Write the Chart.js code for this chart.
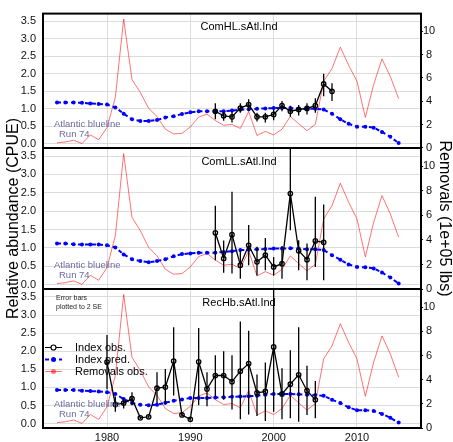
<!DOCTYPE html>
<html>
<head>
<meta charset="utf-8">
<script src="https://cdn.jsdelivr.net/npm/chart.js@4.4.0/dist/chart.umd.min.js"></script>
<style>
  body { margin: 0; background: #fff; }
  #wrap { position: relative; width: 453px; height: 442px; }
  #wrap canvas { position: absolute; left: 0; top: 0; }
</style>
</head>
<body>
<div id="wrap">
  <canvas id="c1" width="453" height="442"></canvas>
  <canvas id="c2" width="453" height="442"></canvas>
  <canvas id="c3" width="453" height="442"></canvas>
</div>
<script>
// years for removals and predicted index
const years = [1974, 1975, 1976, 1977, 1978, 1979, 1980, 1981, 1982, 1983, 1984, 1985, 1986, 1987,
  1988, 1989, 1990, 1991, 1992, 1993, 1994, 1995, 1996, 1997, 1998, 1999, 2000, 2001,
  2002, 2003, 2004, 2005, 2006, 2007, 2008, 2009, 2010, 2011, 2012, 2013, 2014, 2015];

// removals (1e+05 lbs), same in every panel
const removals = [0.44, 0.52, 0.66, 0.38, 1.12, 0.71, 1.75, 4.34, 11.04, 5.85, 4.75, 3.39, 2.70, 1.61,
  1.20, 1.26, 1.80, 2.65, 2.90, 2.35, 1.94, 2.02, 1.67, 3.11, 1.07, 1.42, 1.12, 1.61,
  2.70, 2.08, 1.48, 2.02, 5.71, 6.80, 8.63, 7.07, 5.71, 2.62, 5.44, 7.62, 6.12, 4.21];

// predicted index per panel
const predHL = [1.18, 1.18, 1.18, 1.17, 1.15, 1.14, 1.12, 1.04, 0.86, 0.70, 0.65, 0.65, 0.68, 0.75,
  0.79, 0.85, 0.90, 0.93, 0.93, 0.93, 0.93, 0.95, 0.97, 0.99, 1.00, 1.01, 1.02, 1.02,
  1.02, 1.01, 1.00, 1.00, 0.98, 0.86, 0.70, 0.57, 0.49, 0.49, 0.46, 0.34, 0.20, 0.02];
const predLL = [1.12, 1.12, 1.10, 1.09, 1.09, 1.09, 1.07, 1.01, 0.82, 0.69, 0.64, 0.61, 0.64, 0.69,
  0.77, 0.83, 0.85, 0.87, 0.87, 0.87, 0.89, 0.91, 0.94, 0.95, 0.96, 0.97, 0.98, 0.98,
  0.99, 0.98, 0.96, 0.96, 0.94, 0.80, 0.68, 0.55, 0.48, 0.47, 0.44, 0.33, 0.19, 0.03];
const predRec = [0.93, 0.93, 0.93, 0.91, 0.90, 0.89, 0.87, 0.82, 0.68, 0.57, 0.52, 0.51, 0.52, 0.58,
  0.63, 0.67, 0.71, 0.71, 0.71, 0.72, 0.73, 0.74, 0.75, 0.76, 0.77, 0.80, 0.82, 0.82,
  0.82, 0.81, 0.80, 0.79, 0.77, 0.66, 0.57, 0.45, 0.37, 0.37, 0.35, 0.27, 0.16, 0.03];

// observed index with 2 SE bounds
const obsYearsHL = [1993, 1994, 1995, 1996, 1997, 1998, 1999, 2000, 2001, 2002, 2003, 2004, 2005, 2006, 2007];
const obsHL = [0.93, 0.80, 0.77, 1.02, 1.12, 0.77, 0.77, 0.84, 1.09, 0.93, 0.98, 1.01, 1.09, 1.71, 1.50];
const loHL  = [0.70, 0.66, 0.61, 0.89, 0.93, 0.64, 0.61, 0.67, 0.93, 0.77, 0.81, 0.84, 0.89, 1.36, 1.22];
const hiHL  = [1.16, 0.93, 0.93, 1.16, 1.27, 0.89, 0.89, 0.98, 1.22, 1.09, 1.11, 1.16, 1.30, 2.00, 1.73];

const obsYearsLL = [1993, 1994, 1995, 1996, 1997, 1998, 1999, 2000, 2001, 2002, 2003, 2004, 2005, 2006];
const obsLL = [1.41, 0.71, 1.36, 0.53, 1.07, 0.62, 0.80, 0.48, 0.57, 2.48, 0.92, 0.68, 1.19, 1.15];
const loLL  = [0.66, 0.32, 0.30, 0.16, 0.53, 0.25, 0.39, 0.25, 0.16, 1.48, 0.39, 0.12, 0.48, 0.12];
const hiLL  = [2.15, 1.20, 2.53, 0.94, 1.62, 1.03, 1.27, 0.75, 1.05, 3.70, 1.21, 1.12, 2.39, 2.18];

const obsYearsRec = [1980, 1981, 1982, 1983, 1984, 1985, 1986, 1987, 1988, 1989, 1990, 1991, 1992,
  1993, 1994, 1995, 1996, 1997, 1998, 1999, 2000, 2001, 2002, 2003, 2004, 2005];
const obsRec = [1.70, 0.53, 0.57, 0.69, 0.16, 0.19, 0.98, 1.01, 1.73, 0.24, 0.12, 1.71, 0.96,
  1.33, 1.33, 1.16, 1.45, 1.66, 0.85, 0.89, 2.12, 0.82, 1.09, 1.35, 0.91, 0.66];
const loRec  = [0.95, 0.33, 0.42, 0.51, 0.13, 0.16, 0.57, 0.53, 0.78, 0.20, 0.09, 0.51, 0.48,
  0.75, 0.66, 0.39, 0.12, 0.25, 0.21, 0.07, 0.33, 0.12, 0.15, 0.05, 0.24, 0.15];
const hiRec  = [2.45, 0.75, 0.71, 0.87, 0.19, 0.22, 1.42, 1.51, 2.66, 0.28, 0.15, 2.64, 1.42,
  1.89, 2.00, 1.89, 2.82, 2.57, 1.36, 1.69, 3.70, 1.53, 2.03, 2.66, 1.60, 1.18];

const xTicks = [1980, 1990, 2000, 2010];
const leftTicks = [0, 0.5, 1, 1.5, 2, 2.5, 3, 3.5];
const rightTicks = [0, 2, 4, 6, 8, 10];
const panelTitles = ['ComHL.sAtl.Ind', 'ComLL.sAtl.Ind', 'RecHb.sAtl.Ind'];
const legendLabels = ['Index obs.', 'Index pred.', 'Removals obs.'];

const FONT = '"Liberation Sans", Arial, Helvetica, sans-serif';
Chart.defaults.font.family = FONT;
Chart.defaults.color = '#111';

const RED = 'rgba(255,0,0,0.55)';
const BLUE = '#0000ff';
const GRID = '#dcdcdc';

// text inside the panels, legend and the frame
const panelText = {
  id: 'panelText',
  afterDatasetsDraw(chart, args, opts) {
    const { ctx, chartArea: a } = chart;
    ctx.save();
    ctx.textBaseline = 'middle';
    ctx.fillStyle = '#000';
    ctx.textAlign = 'center';
    ctx.font = '11px ' + FONT;
    ctx.fillText(opts.title, 239, a.top + 13.5);

    ctx.textAlign = 'left';
    ctx.font = '9.5px ' + FONT;
    ctx.fillStyle = 'rgba(90,90,150,0.9)';
    ctx.fillText('Atlantic blueline', 54, a.bottom - 24);
    ctx.fillText('Run 74', 59, a.bottom - 13.5);

    if (opts.legend) {
      ctx.fillStyle = '#222';
      ctx.font = '7px ' + FONT;
      ctx.fillText('Error bars', 56, a.top + 9.5);
      ctx.fillText('plotted to 2 SE', 56, a.top + 18.5);

      const sty = [
        { c: '#000', w: 1, dash: [], fill: null },
        { c: BLUE, w: 2, dash: [4, 3], fill: BLUE },
        { c: RED, w: 1, dash: [], fill: RED }
      ];
      legendLabels.forEach((lab, i) => {
        const y = a.top + 58.5 + i * 12;
        const s = sty[i];
        ctx.strokeStyle = s.c;
        ctx.lineWidth = s.w;
        ctx.setLineDash(s.dash);
        ctx.beginPath(); ctx.moveTo(45, y); ctx.lineTo(62, y); ctx.stroke();
        ctx.setLineDash([]);
        ctx.beginPath(); ctx.arc(53.5, y, 2.5, 0, Math.PI * 2);
        if (s.fill) { ctx.fillStyle = s.fill; ctx.fill(); }
        else { ctx.fillStyle = '#fff'; ctx.fill(); ctx.lineWidth = 1.2; ctx.stroke(); }
        ctx.fillStyle = '#000';
        ctx.font = '11px ' + FONT;
        ctx.fillText(lab, 75, y);
      });
    }

    ctx.strokeStyle = '#000';
    ctx.lineWidth = 2;
    ctx.strokeRect(a.left, a.top, a.width, a.height);
    ctx.restore();
  }
};

const panels = [
  { top: 8, bottom: 148 },
  { top: 148, bottom: 289 },
  { top: 289, bottom: 428 }
];

function makePanel(id, idx, pred, oYears, obs, lo, hi) {
  const last = idx === 2;
  const mid = idx === 1;
  const errData = [];
  oYears.forEach((yr, i) => {
    errData.push({ x: yr, y: lo[i] }, { x: yr, y: hi[i] }, { x: yr, y: null });
  });

  new Chart(document.getElementById(id), {
    type: 'line',
    data: {
      datasets: [
        {
          label: 'Index obs.',
          data: oYears.map((yr, i) => ({ x: yr, y: obs[i] })),
          yAxisID: 'yL',
          borderColor: '#000',
          borderWidth: 1.3,
          pointRadius: 2.2,
          pointBorderWidth: 1.3,
          pointBorderColor: '#000',
          pointBackgroundColor: 'rgba(0,0,0,0)'
        },
        {
          label: 'err',
          data: errData,
          yAxisID: 'yL',
          borderColor: '#000',
          borderWidth: 1.3,
          pointRadius: 0,
          spanGaps: false
        },
        {
          label: 'Index pred.',
          data: years.map((yr, i) => ({ x: yr, y: pred[i] })),
          yAxisID: 'yL',
          borderColor: BLUE,
          borderWidth: 2,
          borderDash: [4, 3],
          pointRadius: 2,
          pointBorderWidth: 0,
          pointBackgroundColor: BLUE
        },
        {
          label: 'Removals obs.',
          data: years.map((yr, i) => ({ x: yr, y: removals[i] })),
          yAxisID: 'yR',
          borderColor: RED,
          borderWidth: 1,
          pointRadius: 0
        }
      ]
    },
    options: {
      responsive: false,
      animation: false,
      events: [],
      layout: { padding: { top: panels[idx].top, bottom: last ? 0 : 442 - panels[idx].bottom, left: 0, right: 0 } },
      plugins: {
        legend: { display: false },
        tooltip: { enabled: false },
        panelText: { title: panelTitles[idx], legend: last }
      },
      scales: {
        x: {
          type: 'linear',
          min: 1972.32,
          max: 2017.68,
          afterBuildTicks: s => { s.ticks = xTicks.map(v => ({ value: v })); },
          afterFit: s => { s.height = last ? 14 : 0; },
          grid: { color: GRID, lineWidth: 1, drawTicks: false },
          border: { display: false },
          ticks: { display: last, padding: 3, maxRotation: 0, font: { size: 11 }, callback: v => String(v) }
        },
        yL: {
          position: 'left',
          min: -0.12,
          max: 3.72,
          afterBuildTicks: s => { s.ticks = leftTicks.map(v => ({ value: v })); },
          afterFit: s => { s.width = 43; },
          grid: { color: GRID, lineWidth: 1, drawTicks: false },
          border: { display: false },
          ticks: { padding: 7, font: { size: 11 }, callback: v => Number(v).toFixed(1) },
          title: { display: mid, text: 'Relative abundance (CPUE)', color: '#000', font: { size: 16 }, padding: { top: 4, bottom: 0 } }
        },
        yR: {
          position: 'right',
          min: 0,
          max: 11.5,
          afterBuildTicks: s => { s.ticks = rightTicks.map(v => ({ value: v })); },
          afterFit: s => { s.width = 32; },
          grid: { drawOnChartArea: false, drawTicks: true, tickLength: 2, color: '#000' },
          border: { display: false },
          ticks: { padding: 0, crossAlign: 'center', font: { size: 11 }, callback: v => String(v) },
          title: { display: mid, text: 'Removals (1e+05 lbs)', color: '#000', font: { size: 16 }, padding: { top: -1, bottom: 0 } }
        }
      }
    },
    plugins: [panelText]
  });
}

makePanel('c1', 0, predHL, obsYearsHL, obsHL, loHL, hiHL);
makePanel('c2', 1, predLL, obsYearsLL, obsLL, loLL, hiLL);
makePanel('c3', 2, predRec, obsYearsRec, obsRec, loRec, hiRec);
</script>
</body>
</html>
